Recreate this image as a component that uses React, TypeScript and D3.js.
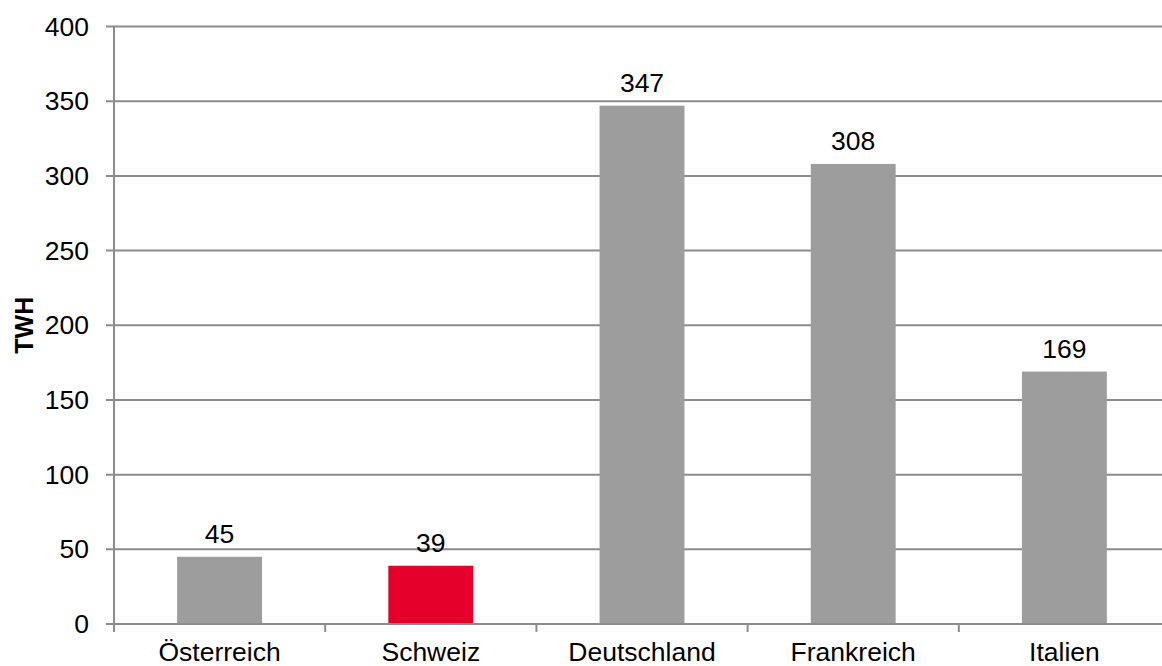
import { useEffect, useRef } from "react";
import * as d3 from "d3";

const CATEGORIES = ["Österreich", "Schweiz", "Deutschland", "Frankreich", "Italien"];
const VALUES = [45, 39, 347, 308, 169];
const HIGHLIGHT = "Schweiz";
const Y_TICKS = [0, 50, 100, 150, 200, 250, 300, 350, 400];
const Y_TITLE = "TWH";

const W = 1162, H = 666;
const FONT = "'Liberation Sans', Arial, sans-serif";

export default function App() {
  const svgRef = useRef<SVGSVGElement>(null);

  useEffect(() => {
    if (!svgRef.current) return;
    const svg = d3.select(svgRef.current);
    svg.selectAll("*").remove();

    const x0 = 114, x1 = 1170, y0 = 624, y1 = 26.5;
    const x = d3.scaleBand().domain(CATEGORIES).range([x0, x1]).padding(0);
    const y = d3.scaleLinear().domain([0, 400]).range([y0, y1]);
    const grid = "#8c8c8c";
    const bw = x.bandwidth() * 0.402;

    // gridlines + y ticks
    Y_TICKS.forEach(t => {
      svg.append("line").attr("x1", x0 - 8).attr("x2", W).attr("y1", y(t)).attr("y2", y(t))
        .attr("stroke", grid).attr("stroke-width", 2);
      svg.append("text").attr("x", 89).attr("y", y(t) + 9).attr("text-anchor", "end")
        .attr("font-family", FONT).attr("font-size", 26.5).attr("fill", "#000").text(t);
    });

    // bars
    CATEGORIES.forEach((c, i) => {
      const cx = x(c)! + x.bandwidth() / 2;
      const v = VALUES[i];
      svg.append("rect").attr("x", cx - bw / 2).attr("y", y(v)).attr("width", bw).attr("height", y0 - y(v))
        .attr("fill", c === HIGHLIGHT ? "#e4002b" : "#9d9d9d");
      svg.append("text").attr("x", cx).attr("y", y(v) - 14).attr("text-anchor", "middle")
        .attr("font-family", FONT).attr("font-size", 26.5).attr("fill", "#000").text(v);
      svg.append("text").attr("x", cx).attr("y", 661).attr("text-anchor", "middle")
        .attr("font-family", FONT).attr("font-size", 26.5).attr("fill", "#000").text(c);
    });

    // axes
    svg.append("line").attr("x1", x0).attr("x2", x0).attr("y1", y1).attr("y2", y0 + 8)
      .attr("stroke", grid).attr("stroke-width", 2);
    svg.append("line").attr("x1", x0).attr("x2", W).attr("y1", y0).attr("y2", y0)
      .attr("stroke", grid).attr("stroke-width", 2);
    CATEGORIES.forEach(c => {
      const tx = x(c)! + x.bandwidth();
      svg.append("line").attr("x1", tx).attr("x2", tx).attr("y1", y0).attr("y2", y0 + 8)
        .attr("stroke", grid).attr("stroke-width", 2);
    });

    svg.append("text").attr("transform", `translate(33,${(y0 + y1) / 2}) rotate(-90)`)
      .attr("text-anchor", "middle").attr("font-family", FONT).attr("font-size", 25)
      .attr("font-weight", "bold").attr("fill", "#000").text(Y_TITLE);
  }, []);

  return (
    <svg ref={svgRef} width={W} height={H}
      style={{ position: "absolute", left: 0, top: 0, background: "#fff" }} />
  );
}
